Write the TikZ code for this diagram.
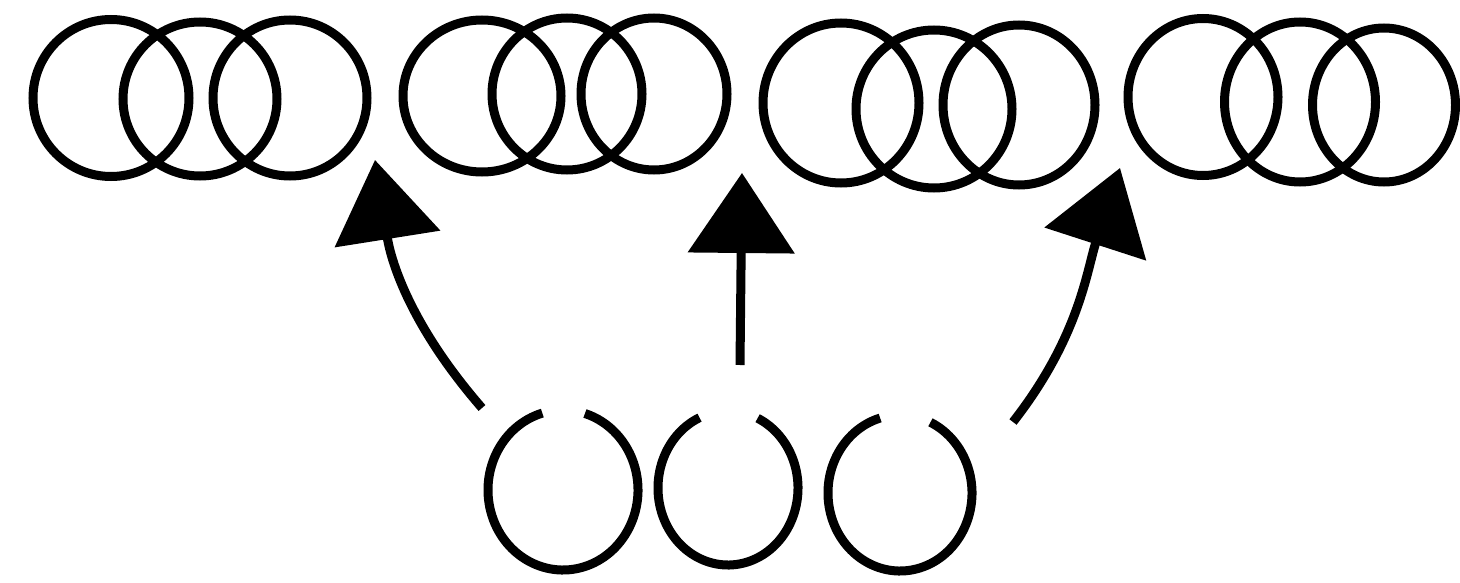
\documentclass[tikz,border=0pt]{standalone}
\usetikzlibrary{arrows.meta,shapes.geometric}
\begin{document}
\begin{tikzpicture}[x=1pt,y=1pt,
  link/.style={ellipse, draw=black, line width=9pt, inner sep=0pt},
  openring/.style={draw=black, line width=9pt},
  arr/.style={draw=black, line width=9pt, -{Triangle[length=80pt,width=105pt]}}]
\fill[white] (0,0) rectangle (1460,-583);
\useasboundingbox (0,0) rectangle (1460,-583);
% group 1
\node[link, minimum width=156pt, minimum height=157pt] (g1a) at (111,-98) {};
\node[link, minimum width=154pt, minimum height=154pt] (g1b) at (200,-99) {};
\node[link, minimum width=154pt, minimum height=156pt] (g1c) at (290,-98) {};
% group 2
\node[link, minimum width=158pt, minimum height=152pt] (g2a) at (482,-96) {};
\node[link, minimum width=150pt, minimum height=152pt] (g2b) at (567,-94) {};
\node[link, minimum width=146pt, minimum height=152pt] (g2c) at (654,-94) {};
% group 3
\node[link, minimum width=156pt, minimum height=160pt] (g3a) at (841,-103) {};
\node[link, minimum width=156pt, minimum height=158pt] (g3b) at (934,-109) {};
\node[link, minimum width=152pt, minimum height=160pt] (g3c) at (1019,-105) {};
% group 4
\node[link, minimum width=150pt, minimum height=157pt] (g4a) at (1203,-97) {};
\node[link, minimum width=151pt, minimum height=160pt] (g4b) at (1300,-102) {};
\node[link, minimum width=143pt, minimum height=154pt] (g4c) at (1384,-105) {};
% open rings
\coordinate (r1) at (563,-490);
\coordinate (r2) at (728,-488);
\coordinate (r3) at (900,-493);
\draw[openring] ([shift={(106:75 and 80)}]r1) arc[start angle=106, end angle=433, x radius=75, y radius=80];
\draw[openring] ([shift={(114:70 and 77)}]r2) arc[start angle=114, end angle=425, x radius=70, y radius=77];
\draw[openring] ([shift={(106:72 and 78)}]r3) arc[start angle=106, end angle=425, x radius=72, y radius=78];
% arrows
\coordinate (t1) at (482,-408);
\coordinate (h1) at (375,-160);
\coordinate (t2) at (740,-365);
\coordinate (h2) at (742,-173);
\coordinate (t3) at (1013,-422);
\coordinate (h3) at (1120,-168);
\draw[arr] (t1) to[out=131,in=279] (h1);
\draw[arr] (t2) -- (h2);
\draw[arr] (t3) to[out=52,in=252] (h3);
\end{tikzpicture}
\end{document}
